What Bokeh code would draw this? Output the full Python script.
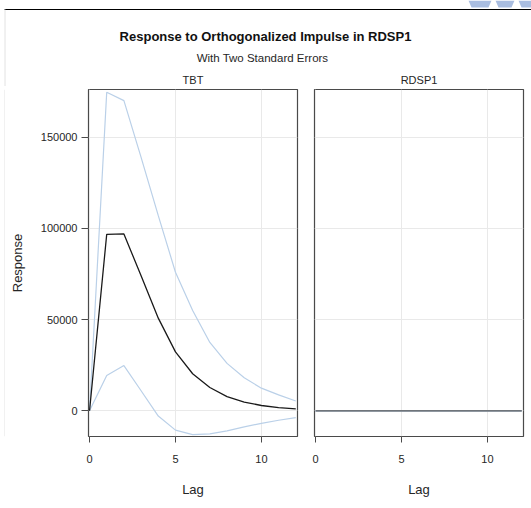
from bokeh.plotting import figure
from bokeh.layouts import column, row
from bokeh.models import Range1d, FixedTicker, NumeralTickFormatter
from bokeh.core.properties import value
from bokeh.embed import file_html
from bokeh.resources import INLINE

# ---- data ----
lags = [0, 1, 2, 3, 4, 5, 6, 7, 8, 9, 10, 11, 12]
tbt_irf = [0, 96800, 97000, 74000, 50800, 32300, 20300, 12800, 7800, 4800, 2900, 1700, 1000]
tbt_upper = [0, 174700, 170100, 139000, 107000, 76000, 55000, 37500, 26000, 18100, 12400, 8700, 5400]
tbt_lower = [0, 19400, 24800, 11000, -2900, -10600, -13100, -12700, -11000, -8800, -6900, -5200, -3700]
rdsp1_irf = [0, 0, 0, 0, 0, 0, 0, 0, 0, 0, 0, 0, 0]
rdsp1_upper = [0, 0, 0, 0, 0, 0, 0, 0, 0, 0, 0, 0, 0]
rdsp1_lower = [0, 0, 0, 0, 0, 0, 0, 0, 0, 0, 0, 0, 0]
panel_names = ["TBT", "RDSP1"]
x_ticks = [0, 5, 10]
y_ticks = [0, 50000, 100000, 150000]
main_title = "Response to Orthogonalized Impulse in RDSP1"
sub_title = "With Two Standard Errors"

FONT = value("Liberation Sans")
BAND = "#bad0e8"
GRID = "#e9e9e9"
FRAME = "#4a4a4a"
TXT = "#262626"

xr = Range1d(-0.06, 12.1)
yr = Range1d(-14100, 176200)

# ---- header (titles and strip labels) ----
HW, HH = 531, 86
header = figure(width=HW, height=HH, x_range=Range1d(0, HW), y_range=Range1d(HH, 0),
                output_backend="svg", toolbar_location=None, title=None,
                min_border_left=0, min_border_right=0, min_border_top=0, min_border_bottom=0)
header.axis.visible = False
header.grid.visible = False
header.outline_line_color = None
# page decorations of the screenshot
header.segment(x0=[4], y0=[9], x1=[531], y1=[9], line_color="#000000", line_width=1)
header.segment(x0=[4.5], y0=[9], x1=[4.5], y1=[86], line_color="#e2e2e2", line_width=1)
header.patches(xs=[[468, 491, 488, 471], [495, 514, 511, 498], [518, 531, 531, 521]],
               ys=[[0, 0, 7, 7], [0, 0, 7, 7], [0, 0, 7, 7]],
               fill_color="#a9bde0", line_color=None)
header.text(x=[265], y=[36], text=[main_title], text_font=FONT, text_font_size="13px",
            text_font_style="bold", text_align="center", text_baseline="middle", text_color="#111111")
header.text(x=[262], y=[57], text=[sub_title], text_font=FONT, text_font_size="11.5px",
            text_align="center", text_baseline="middle", text_color=TXT)
header.text(x=[192.5, 418.5], y=[79, 79], text=panel_names, text_font=FONT, text_font_size="11px",
            text_align="center", text_baseline="middle", text_color=TXT)

PH = 422

# thin strip carrying the left page border line
strip = figure(width=5, height=PH, x_range=Range1d(0, 5), y_range=Range1d(0, 1),
               output_backend="svg", toolbar_location=None, title=None,
               min_border_left=0, min_border_right=0, min_border_top=0, min_border_bottom=0)
strip.axis.visible = False
strip.grid.visible = False
strip.outline_line_color = None
strip.segment(x0=[4.5], y0=[0], x1=[4.5], y1=[1], line_color="#e2e2e2", line_width=1)


def make_panel(width, bl, br, irf, up, lo, show_y, main_color):
    p = figure(width=width, height=PH, x_range=xr, y_range=yr, output_backend="svg",
               toolbar_location=None, title=None,
               min_border_left=bl, min_border_right=br, min_border_top=3, min_border_bottom=72)
    p.outline_line_color = FRAME
    p.outline_line_width = 1.2
    p.xgrid.ticker = FixedTicker(ticks=x_ticks)
    p.ygrid.ticker = FixedTicker(ticks=y_ticks)
    p.grid.grid_line_color = GRID
    p.grid.grid_line_width = 1
    p.xaxis.ticker = FixedTicker(ticks=x_ticks)
    p.xaxis.axis_label = "Lag"
    for ax in p.axis:
        ax.axis_line_color = None
        ax.major_tick_line_color = FRAME
        ax.major_tick_out = 6
        ax.major_tick_in = 0
        ax.minor_tick_line_color = None
        ax.major_label_text_font = "Liberation Sans"
        ax.major_label_text_font_size = "11px"
        ax.major_label_text_color = TXT
        ax.axis_label_text_font = "Liberation Sans"
        ax.axis_label_text_font_size = "13px"
        ax.axis_label_text_font_style = "normal"
        ax.axis_label_text_color = TXT
    p.xaxis.major_label_standoff = 12
    p.xaxis.axis_label_standoff = 16
    if show_y:
        p.yaxis.ticker = FixedTicker(ticks=y_ticks)
        p.yaxis.formatter = NumeralTickFormatter(format="0")
        p.yaxis.axis_label = "Response"
        p.yaxis.major_tick_out = 7
        p.yaxis.major_label_standoff = 4
        p.yaxis.axis_label_standoff = 13
    else:
        p.yaxis.visible = False
    p.line(lags, up, line_color=BAND, line_width=1.2)
    p.line(lags, lo, line_color=BAND, line_width=1.2)
    p.line(lags, irf, line_color=main_color, line_width=1.3)
    return p


p1 = make_panel(300, 83, 8, tbt_irf, tbt_upper, tbt_lower, True, "#1a1a1a")
p2 = make_panel(226, 9, 8, rdsp1_irf, rdsp1_upper, rdsp1_lower, False, "#555555")

layout = column(header, row(strip, p1, p2, spacing=0), spacing=0)
open("out.html", "w").write(file_html(layout, INLINE))
